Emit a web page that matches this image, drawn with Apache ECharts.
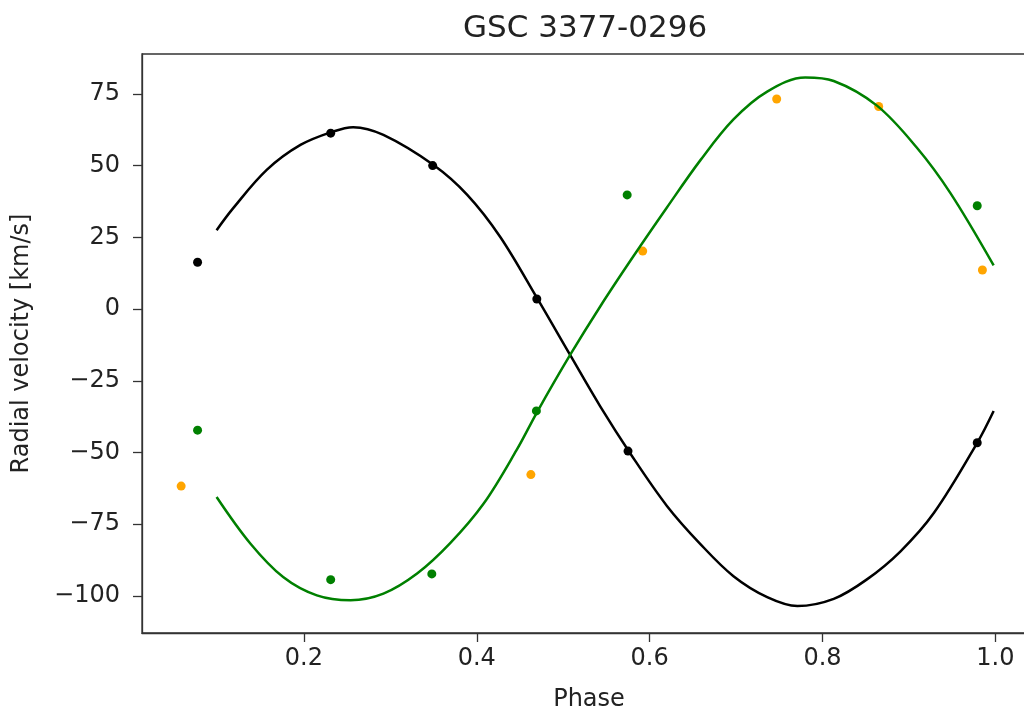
<!DOCTYPE html>
<html>
<head>
<meta charset="utf-8">
<script src="https://cdn.jsdelivr.net/npm/echarts@6/dist/echarts.min.js"></script>
<style>
html,body{margin:0;padding:0;background:#fff;}
#chart{width:1024px;height:711px;}
</style>
</head>
<body>
<div id="chart"></div>
<script>
// Observed points (phase, radial velocity km/s)
var blackPhase  = [0.077, 0.231, 0.349, 0.4695, 0.575, 0.979];
var blackRV     = [16.3, 61.3, 50.0, 3.5, -49.5, -46.6];
var greenPhase  = [0.077, 0.231, 0.348, 0.469, 0.574, 0.979];
var greenRV     = [-42.2, -94.3, -92.3, -35.5, 39.8, 36.0];
var orangePhase = [0.058, 0.4626, 0.592, 0.747, 0.865, 0.985];
var orangeRV    = [-61.7, -57.7, 20.2, 73.2, 70.6, 13.6];

// Fitted curves
var blackCurvePhase = [0.099, 0.118, 0.157, 0.196, 0.234, 0.257, 0.292, 0.350, 0.389, 0.427, 0.470, 0.508, 0.543, 0.578, 0.620, 0.659, 0.697, 0.736, 0.771, 0.813, 0.851, 0.890, 0.929, 0.979, 0.998];
var blackCurveRV    = [27.5, 35.1, 48.5, 57.2, 61.9, 63.4, 60.7, 50.2, 39.8, 25.2, 3.7, -16.0, -34.0, -50.5, -68.6, -82.0, -93.1, -100.4, -103.5, -101.0, -94.3, -84.5, -71.0, -46.6, -35.5];
var greenCurvePhase = [0.099, 0.138, 0.176, 0.215, 0.254, 0.292, 0.331, 0.369, 0.408, 0.446, 0.470, 0.508, 0.543, 0.581, 0.620, 0.659, 0.697, 0.736, 0.780, 0.813, 0.863, 0.909, 0.948, 0.998];
var greenCurveRV    = [-65.5, -81.7, -93.4, -99.8, -101.5, -99.2, -92.2, -81.7, -67.8, -49.2, -35.8, -16.0, 1.0, 18.3, 35.4, 52.0, 66.1, 75.8, 80.7, 79.5, 70.9, 56.3, 40.4, 15.2];

var xTicks = [0.2, 0.4, 0.6, 0.8, 1.0];
var yTicks = [-100, -75, -50, -25, 0, 25, 50, 75];

function zip(a, b) { return a.map(function (v, i) { return [v, b[i]]; }); }

var FONT = 'DejaVu Sans';
var chart = echarts.init(document.getElementById('chart'), null, {renderer: 'canvas'});
chart.setOption({
  animation: false,
  backgroundColor: '#fff',
  title: {
    text: 'GSC 3377-0296',
    left: 458,
    top: 8,
    textStyle: {fontFamily: FONT, fontSize: 31, fontWeight: 'normal', color: '#222'}
  },
  grid: {
    left: 142, top: 54, width: 894, height: 579,
    show: true, borderColor: '#333', borderWidth: 1.3, backgroundColor: 'transparent',
    containLabel: false,
    outerBoundsMode: 'none'
  },
  xAxis: {
    type: 'value',
    min: 0.0127, max: 1.047,
    name: 'Phase',
    nameLocation: 'middle',
    nameGap: 55,
    nameTextStyle: {fontFamily: FONT, fontSize: 24, color: '#222'},
    axisLine: {show: true, onZero: false, lineStyle: {color: '#333', width: 1.3}},
    axisTick: {show: true, length: 9, inside: false, customValues: xTicks, lineStyle: {color: '#333', width: 1.3}},
    axisLabel: {
      customValues: xTicks, margin: 14,
      fontFamily: FONT, fontSize: 24, color: '#222',
      formatter: function (v) { return v.toFixed(1); }
    },
    splitLine: {show: false}
  },
  yAxis: {
    type: 'value',
    min: -112.9, max: 88.9,
    name: 'Radial velocity [km/s]',
    nameLocation: 'middle',
    nameGap: 108,
    nameTextStyle: {fontFamily: FONT, fontSize: 24, color: '#222'},
    axisLine: {show: true, onZero: false, lineStyle: {color: '#333', width: 1.3}},
    axisTick: {show: true, length: 9, inside: false, customValues: yTicks, lineStyle: {color: '#333', width: 1.3}},
    axisLabel: {
      customValues: yTicks, margin: 22,
      fontFamily: FONT, fontSize: 24, color: '#222',
      formatter: function (v) { return v < 0 ? '\u2212' + Math.abs(v) : String(v); }
    },
    splitLine: {show: false}
  },
  series: [
    {type: 'scatter', data: zip(blackPhase, blackRV), symbol: 'circle', symbolSize: 9, itemStyle: {color: '#000', opacity: 1}, z: 2},
    {type: 'scatter', data: zip(greenPhase, greenRV), symbol: 'circle', symbolSize: 9, itemStyle: {color: '#008000', opacity: 1}, z: 2},
    {type: 'scatter', data: zip(orangePhase, orangeRV), symbol: 'circle', symbolSize: 9, itemStyle: {color: '#FFA500', opacity: 1}, z: 2},
    {type: 'line', data: zip(blackCurvePhase, blackCurveRV), smooth: 0.35, showSymbol: false, symbol: 'none', lineStyle: {color: '#000', width: 2.5}, z: 3},
    {type: 'line', data: zip(greenCurvePhase, greenCurveRV), smooth: 0.35, showSymbol: false, symbol: 'none', lineStyle: {color: '#008000', width: 2.5}, z: 3}
  ]
});
</script>
</body>
</html>
